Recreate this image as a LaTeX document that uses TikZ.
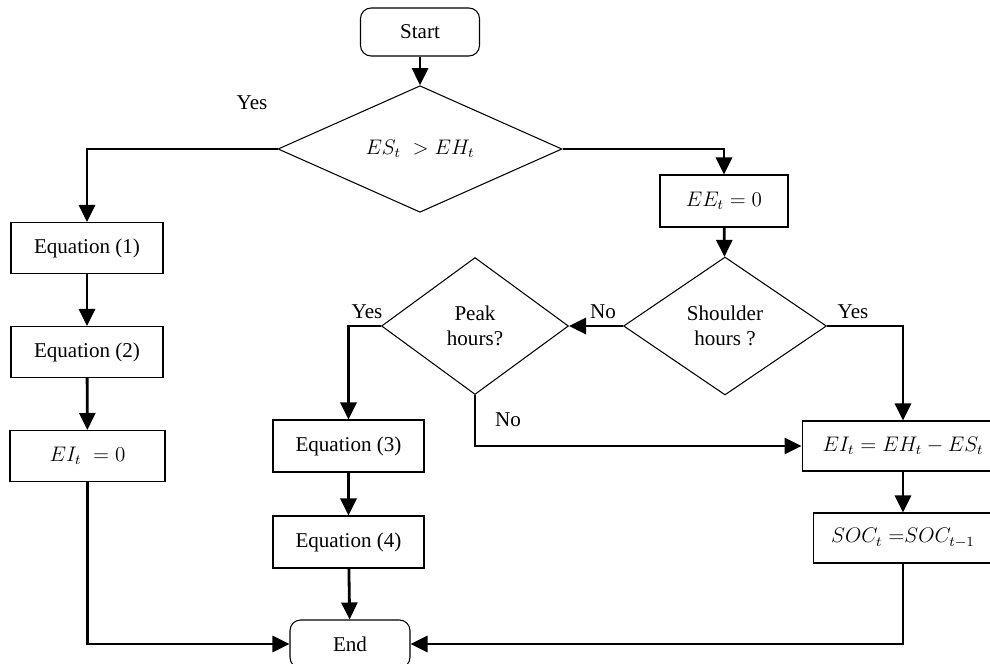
\documentclass[tikz,border=0pt]{standalone}
\usepackage{fontspec}
\setmainfont{Liberation Serif}
\usetikzlibrary{shapes.geometric,arrows.meta}

\begin{document}
\begin{tikzpicture}[x=0.02cm,y=-0.02cm,
        every node/.style={font=\fontsize{12}{14}\selectfont},
        box/.style={draw,line width=0.6pt,minimum width=3.04cm,minimum height=1.02cm,inner sep=2pt},
        term/.style={box,rounded corners=6pt,minimum width=2.38cm,minimum height=0.96cm},
        decision/.style={draw,diamond,line width=0.6pt,inner sep=0pt,align=center},
        flow/.style={line width=1.6pt,-{Triangle[length=0.34cm,width=0.32cm]}}]
        \clip (0,0) rectangle (990,663);
        % terminals and decisions
        \node[term] (start) at (420,32) {Start};
        \node[decision,minimum width=5.68cm,minimum height=2.22cm] (surplus) at (420,149) {$ES_t\; > EH_t$};
        \node[decision,minimum width=4.06cm,minimum height=2.76cm] (shoulder) at (725,326) {Shoulder\\hours ?};
        \node[decision,minimum width=3.74cm,minimum height=2.74cm] (peak) at (475,326) {Peak\\hours?};
        \node[term,minimum width=2.4cm] (end) at (350,644) {End};
        % left column
        \node[box] (eqone) at (87,248) {Equation (1)};
        \node[box] (eqtwo) at (87,352) {Equation (2)};
        \node[box,minimum width=3.1cm] (eizero) at (87.5,456) {$EI_t\; = 0$};
        % middle column
        \node[box,minimum width=3.02cm,minimum height=1.04cm] (eqthree) at (348.5,446) {Equation (3)};
        \node[box,minimum width=3.02cm,minimum height=1.04cm] (eqfour) at (348.5,542) {Equation (4)};
        % right column
        \node[box,minimum width=2.56cm,minimum height=1.04cm] (eezero) at (724,201) {$EE_t = 0$};
        \node[box,minimum width=4.04cm,minimum height=1.0cm] (import) at (903,446) {$EI_t = EH_t - ES_t$};
        \node[box,minimum width=3.6cm,minimum height=1.0cm] (soc) at (903,538) {$SOC_t\;{=}SOC_{t-1}$};
        % labels
        \node (yesa) at (252,103) {Yes};
        \node (noa) at (603,312) {No};
        \node (yesb) at (853,312) {Yes};
        \node (yesc) at (367,312) {Yes};
        \node (nob) at (508,420) {No};
        % connectors
        \draw[flow] (start) -- (surplus);
        \draw[flow] (surplus.west) -| (eqone.north);
        \draw[flow] (surplus.east) -| (eezero.north);
        \draw[flow] (eqone) -- (eqtwo);
        \draw[flow] (eqtwo) -- (eizero);
        \draw[flow] (eizero.south) |- (end.west);
        \draw[flow] (eezero) -- (shoulder);
        \draw[flow] (shoulder.west) -- (peak.east);
        \draw[flow] (shoulder.east) -| (import.north);
        \draw[flow] (peak.west) -| (eqthree.north);
        \draw[flow] (peak.south) |- (import.west);
        \draw[flow] (eqthree) -- (eqfour);
        \draw[flow] (eqfour) -- (end);
        \draw[flow] (import) -- (soc);
        \draw[flow] (soc.south) |- (end.east);
    \end{tikzpicture}
\end{document}
